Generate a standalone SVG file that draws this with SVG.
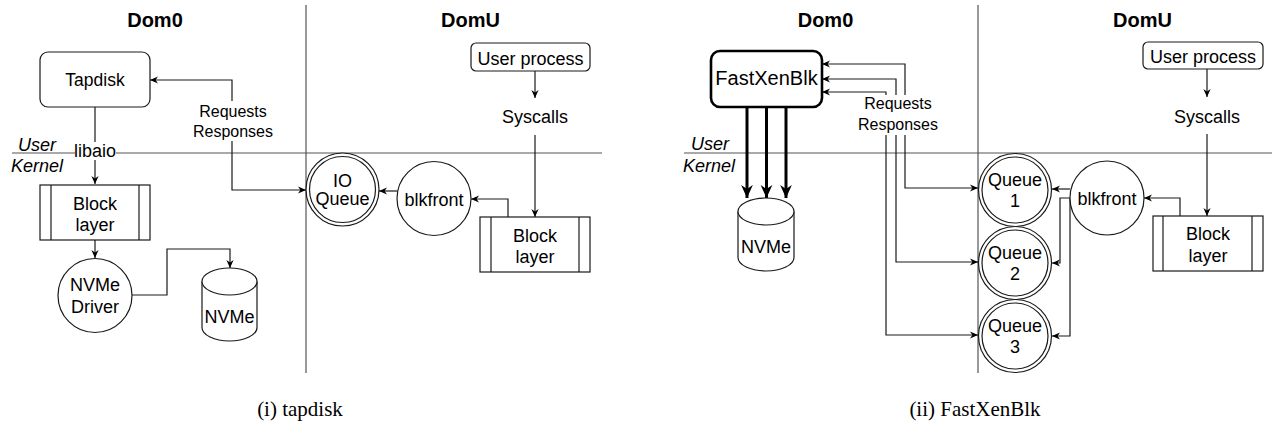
<svg xmlns="http://www.w3.org/2000/svg" width="1273" height="434" viewBox="0 0 1273 434">
<style>
text{font-family:"Liberation Sans",Arial,sans-serif;font-size:18px;fill:#000;text-anchor:middle}
.title{font-weight:bold;font-size:20px}
.lbl{font-size:16px}
.it{font-style:italic;text-anchor:start}
.cap{font-family:"Liberation Serif","Times New Roman",serif;font-size:21px}
.shape{fill:#fff;stroke:#1a1a1a;stroke-width:1.2}
.div{stroke:#555;stroke-width:1.2;fill:none}
.edge{fill:none;stroke:#1a1a1a;stroke-width:1.2}
.thick{fill:none;stroke:#000;stroke-width:3}
</style>
<defs>
<marker id="arr" viewBox="0 0 10 10" refX="10" refY="5" markerWidth="8" markerHeight="8" markerUnits="userSpaceOnUse" orient="auto-start-reverse">
<path d="M0,0.5 L10,5 L0,9.5 L3,5 Z" fill="#000"/>
</marker>
<marker id="arrT" viewBox="0 0 10 10" refX="10" refY="5" markerWidth="13" markerHeight="13" markerUnits="userSpaceOnUse" orient="auto">
<path d="M0,0.5 L10,5 L0,9.5 L3,5 Z" fill="#000"/>
</marker>
</defs>

<g id="layout">
<line class="div" x1="306" y1="5" x2="306" y2="373"/>
<line class="div" x1="12" y1="153" x2="602" y2="153"/>
<line class="div" x1="978" y1="5" x2="978" y2="373"/>
<line class="div" x1="684" y1="153" x2="1272" y2="153"/>
<text class="title" x="155" y="27">Dom0</text>
<text class="title" x="470.5" y="27">DomU</text>
<text class="title" x="825.5" y="27">Dom0</text>
<text class="title" x="1142.5" y="27">DomU</text>
<text class="it" x="18" y="151">User</text>
<text class="it" x="11" y="172">Kernel</text>
<text class="it" x="691" y="150">User</text>
<text class="it" x="683" y="172">Kernel</text>
<text class="cap" x="300" y="416">(i) tapdisk</text>
<text class="cap" x="975" y="416">(ii) FastXenBlk</text>
</g>

<g id="connectors">
<!-- left diagram -->
<path class="edge" d="M95,107 V184" marker-end="url(#arr)"/>
<path class="edge" d="M95,240 V258" marker-end="url(#arr)"/>
<path class="edge" d="M132,295 H167 V249 H230 V268" marker-end="url(#arr)"/>
<path class="edge" d="M150,80 H232 V190 H306" marker-start="url(#arr)" marker-end="url(#arr)"/>
<path class="edge" d="M535,71 V98" marker-end="url(#arr)"/>
<path class="edge" d="M535,135 V217" marker-end="url(#arr)"/>
<path class="edge" d="M508,217 V199 H471" marker-end="url(#arr)"/>
<path class="edge" d="M397,191 H379" marker-end="url(#arr)"/>
<!-- right diagram -->
<path class="edge" d="M822,64 H905 V188 H978" marker-start="url(#arr)" marker-end="url(#arr)"/>
<path class="edge" d="M822,79 H896 V262 H978" marker-start="url(#arr)" marker-end="url(#arr)"/>
<path class="edge" d="M822,92 H886 V335 H978" marker-start="url(#arr)" marker-end="url(#arr)"/>
<path class="thick" d="M747,107 V198" marker-end="url(#arrT)"/>
<path class="thick" d="M766.5,107 V198" marker-end="url(#arrT)"/>
<path class="thick" d="M786,107 V198" marker-end="url(#arrT)"/>
<path class="edge" d="M1207,69 V97" marker-end="url(#arr)"/>
<path class="edge" d="M1207,134 V216" marker-end="url(#arr)"/>
<path class="edge" d="M1180,216 V198 H1144" marker-end="url(#arr)"/>
<path class="edge" d="M1070,189 H1052" marker-end="url(#arr)"/>
<path class="edge" d="M1070,198 H1060 V263 H1052" marker-end="url(#arr)"/>
<path class="edge" d="M1070,198 V336 H1052" marker-end="url(#arr)"/>
<!-- labels -->
<rect x="75" y="142" width="41" height="18" fill="#fff"/>
<text x="95" y="157">libaio</text>
<rect x="192" y="101" width="82" height="40" fill="#fff"/>
<text class="lbl" x="233" y="117">Requests</text>
<text class="lbl" x="233" y="136.5">Responses</text>
<rect x="857" y="95" width="83" height="40" fill="#fff"/>
<text class="lbl" x="898" y="109">Requests</text>
<text class="lbl" x="898" y="130">Responses</text>
<text x="535" y="123">Syscalls</text>
<text x="1207" y="123">Syscalls</text>
</g>

<g id="tapdisk">
<rect class="shape" x="40" y="52" width="110" height="55" rx="8"/>
<text x="95" y="86" style="font-size:17.5px">Tapdisk</text>
</g>
<g id="blocklayer-dom0">
<rect class="shape" x="40" y="185" width="110" height="55"/>
<line class="shape" x1="51" y1="185" x2="51" y2="240"/>
<line class="shape" x1="139" y1="185" x2="139" y2="240"/>
<text x="95" y="210">Block</text>
<text x="95" y="231">layer</text>
</g>
<g id="nvme-driver">
<circle class="shape" cx="95" cy="295.5" r="37"/>
<text x="95" y="291">NVMe</text>
<text x="95" y="313">Driver</text>
</g>
<g id="nvme-left">
<path class="shape" d="M202,281.5 V327.5 A27.5,13.5 0 0 0 257,327.5 V281.5"/>
<ellipse class="shape" cx="229.5" cy="281.5" rx="27.5" ry="13.5"/>
<text x="229.5" y="323">NVMe</text>
</g>
<g id="userprocess-left">
<rect class="shape" x="471" y="43" width="119" height="28" rx="5"/>
<text x="530.5" y="65">User process</text>
</g>
<g id="blocklayer-domu-left">
<rect class="shape" x="480" y="217" width="110" height="55"/>
<line class="shape" x1="491" y1="217" x2="491" y2="272"/>
<line class="shape" x1="579" y1="217" x2="579" y2="272"/>
<text x="535" y="241.5">Block</text>
<text x="535" y="263">layer</text>
</g>
<g id="blkfront-left">
<circle class="shape" cx="434" cy="198.5" r="37"/>
<text x="434" y="206">blkfront</text>
</g>
<g id="ioqueue">
<circle class="shape" cx="342.5" cy="189.5" r="36.5"/>
<circle class="shape" cx="342.5" cy="189.5" r="33"/>
<text x="342.5" y="187">IO</text>
<text x="342.5" y="205">Queue</text>
</g>

<g id="fastxenblk">
<rect class="shape" x="711" y="51" width="111" height="56" rx="9" style="stroke:#000;stroke-width:2.6"/>
<text x="766.5" y="85" style="font-size:20px">FastXenBlk</text>
</g>
<g id="nvme-right">
<path class="shape" d="M738,211.5 V257.5 A28,13.5 0 0 0 794,257.5 V211.5"/>
<ellipse class="shape" cx="766" cy="211.5" rx="28" ry="13.5"/>
<text x="766" y="253">NVMe</text>
</g>
<g id="userprocess-right">
<rect class="shape" x="1143" y="42" width="120" height="27" rx="5"/>
<text x="1203" y="63">User process</text>
</g>
<g id="blocklayer-domu-right">
<rect class="shape" x="1153" y="216" width="110" height="55"/>
<line class="shape" x1="1163" y1="216" x2="1163" y2="271"/>
<line class="shape" x1="1252" y1="216" x2="1252" y2="271"/>
<text x="1208" y="240">Block</text>
<text x="1208" y="262">layer</text>
</g>
<g id="blkfront-right">
<circle class="shape" cx="1107" cy="198" r="37"/>
<text x="1107" y="205">blkfront</text>
</g>
<g id="queue1">
<circle class="shape" cx="1015" cy="190" r="36.5"/>
<circle class="shape" cx="1015" cy="190" r="33"/>
<text x="1015" y="186">Queue</text>
<text x="1015" y="207">1</text>
</g>
<g id="queue2">
<circle class="shape" cx="1015" cy="263" r="36.5"/>
<circle class="shape" cx="1015" cy="263" r="33"/>
<text x="1015" y="258.5">Queue</text>
<text x="1015" y="280">2</text>
</g>
<g id="queue3">
<circle class="shape" cx="1015" cy="336" r="36.5"/>
<circle class="shape" cx="1015" cy="336" r="33"/>
<text x="1015" y="331.5">Queue</text>
<text x="1015" y="353">3</text>
</g>
</svg>
